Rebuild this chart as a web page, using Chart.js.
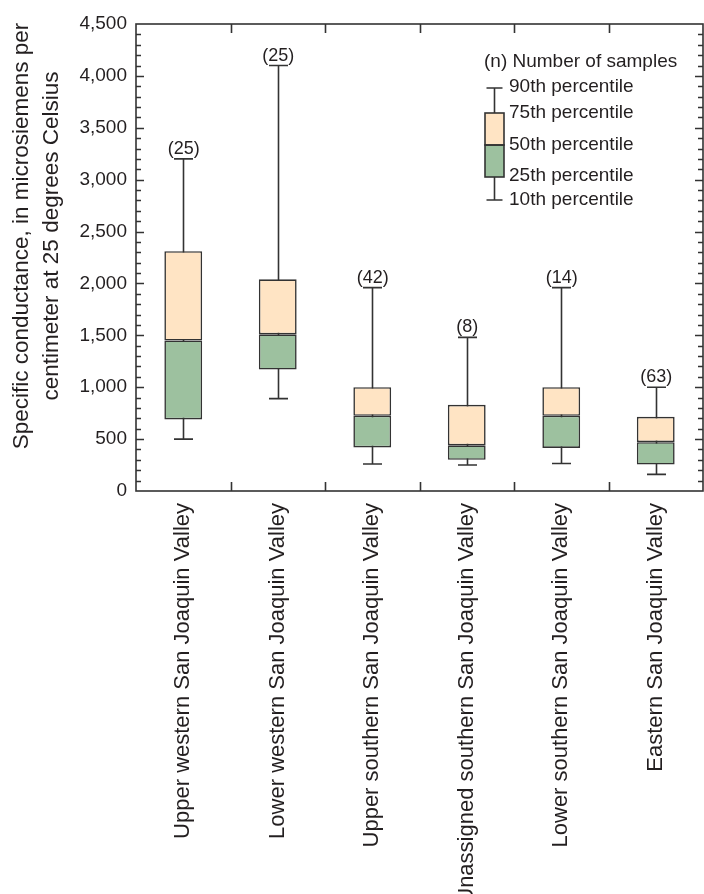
<!DOCTYPE html>
<html>
<head>
<meta charset="utf-8">
<script src="https://cdn.jsdelivr.net/npm/chart.js@4/dist/chart.umd.min.js"></script>
<style>
  html, body { margin: 0; padding: 0; background: #fff; }
  #wrap { width: 704px; height: 894px; }
</style>
</head>
<body>
<div id="wrap"><canvas id="mycanvas" width="704" height="894"></canvas></div>
<script>
// values (microsiemens per centimeter)
var regions = [
	"Upper western San Joaquin Valley",
	"Lower western San Joaquin Valley",
	"Upper southern San Joaquin Valley",
	"Unassigned southern San Joaquin Valley",
	"Lower southern San Joaquin Valley",
	"Eastern San Joaquin Valley"
];
var p10 = [500, 890, 260, 250, 265, 160];
var p25 = [690, 1170, 420, 300, 415, 255];
var p50 = [1450, 1510, 725, 440, 725, 470];
var p75 = [2310, 2040, 1000, 830, 1000, 715];
var p90 = [3200, 4100, 1960, 1480, 1960, 1000];
var nSamples = [25, 25, 42, 8, 14, 63];
var yMin = 0, yMax = 4500, yStep = 500, yMinorStep = 100;

var FONT = "'Liberation Sans', Arial, sans-serif";
var INK = "#231f20";
var LINE = "#333333";
var PEACH = "#ffe4c4";
var GREEN = "#9dc19f";

var lowerBox = [], upperBox = [];
for (var i = 0; i < regions.length; i++) {
	lowerBox.push([p25[i], p50[i]]);
	upperBox.push([p50[i], p75[i]]);
}

// whiskers, caps and (n) labels
var whiskers = {
	id: "whiskers",
	beforeDatasetsDraw: function(chart) {
		var ctx = chart.ctx, x = chart.scales.x, y = chart.scales.y;
		ctx.save();
		ctx.strokeStyle = LINE;
		ctx.lineWidth = 1.6;
		for (var i = 0; i < regions.length; i++) {
			var px = Math.round(x.getPixelForValue(i)) + 0.5;
			var top = y.getPixelForValue(p90[i]), bot = y.getPixelForValue(p10[i]);
			ctx.beginPath();
			ctx.moveTo(px, top); ctx.lineTo(px, bot);
			ctx.moveTo(px - 9.5, top); ctx.lineTo(px + 9.5, top);
			ctx.moveTo(px - 9.5, bot); ctx.lineTo(px + 9.5, bot);
			ctx.stroke();
		}
		ctx.restore();
	},
	afterDatasetsDraw: function(chart) {
		var ctx = chart.ctx, x = chart.scales.x, y = chart.scales.y;
		ctx.save();
		ctx.fillStyle = INK;
		ctx.font = "18px " + FONT;
		ctx.textAlign = "center";
		ctx.textBaseline = "alphabetic";
		for (var i = 0; i < regions.length; i++) {
			var px = x.getPixelForValue(i);
			ctx.fillText("(" + nSamples[i] + ")", px + 0.5, y.getPixelForValue(p90[i]) - 5);
		}
		ctx.restore();
	}
};

// frame with inward ticks on all four sides
var frame = {
	id: "frame",
	afterDraw: function(chart) {
		var ctx = chart.ctx, a = chart.chartArea, x = chart.scales.x, y = chart.scales.y;
		ctx.save();
		ctx.strokeStyle = LINE;
		ctx.lineWidth = 1.6;
		ctx.strokeRect(a.left, a.top, a.right - a.left, a.bottom - a.top);
		ctx.beginPath();
		for (var v = yMin + yMinorStep; v < yMax; v += yMinorStep) {
			var py = Math.round(y.getPixelForValue(v)) + 0.5;
			var len = (v % yStep === 0) ? 8 : 5;
			ctx.moveTo(a.left, py); ctx.lineTo(a.left + len, py);
			ctx.moveTo(a.right, py); ctx.lineTo(a.right - len, py);
		}
		for (var i = 0; i < regions.length - 1; i++) {
			var px = Math.round((x.getPixelForValue(i) + x.getPixelForValue(i + 1)) / 2) + 0.5;
			ctx.moveTo(px, a.bottom); ctx.lineTo(px, a.bottom - 9);
			ctx.moveTo(px, a.top); ctx.lineTo(px, a.top + 9);
		}
		ctx.stroke();

		// y axis title, two lines
		ctx.fillStyle = INK;
		ctx.font = "22.5px " + FONT;
		ctx.textAlign = "center";
		ctx.textBaseline = "middle";
		ctx.translate(22, 236);
		ctx.rotate(-Math.PI / 2);
		ctx.fillText("Specific conductance, in microsiemens per", 0, 0);
		ctx.fillText("centimeter at 25 degrees Celsius", 0, 30);
		ctx.restore();

		// legend
		ctx.save();
		ctx.strokeStyle = LINE;
		ctx.lineWidth = 1.6;
		var lx = 494.5;
		ctx.beginPath();
		ctx.moveTo(lx, 88); ctx.lineTo(lx, 200);
		ctx.moveTo(lx - 8, 88); ctx.lineTo(lx + 8, 88);
		ctx.moveTo(lx - 8, 200); ctx.lineTo(lx + 8, 200);
		ctx.stroke();
		ctx.fillStyle = PEACH;
		ctx.fillRect(485, 113, 19, 32);
		ctx.fillStyle = GREEN;
		ctx.fillRect(485, 145, 19, 32);
		ctx.strokeRect(485, 113, 19, 32);
		ctx.strokeRect(485, 145, 19, 32);
		ctx.fillStyle = INK;
		ctx.font = "19px " + FONT;
		ctx.textAlign = "left";
		ctx.textBaseline = "middle";
		ctx.fillText("(n) Number of samples", 484, 62);
		var rows = [["90th percentile", 87], ["75th percentile", 113], ["50th percentile", 145], ["25th percentile", 176], ["10th percentile", 200]];
		for (var r = 0; r < rows.length; r++) ctx.fillText(rows[r][0], 509, rows[r][1]);
		ctx.restore();
	}
};

var ctx = document.getElementById("mycanvas");
var boxChart = new Chart(ctx, {
	type: "bar",
	data: {
		labels: regions,
		datasets: [
			{
				label: "25th to 50th percentile",
				data: lowerBox,
				backgroundColor: GREEN,
				borderColor: LINE,
				borderWidth: 1.6,
				borderSkipped: false,
				grouped: false,
				barPercentage: 0.4,
				categoryPercentage: 1
			},
			{
				label: "50th to 75th percentile",
				data: upperBox,
				backgroundColor: PEACH,
				borderColor: LINE,
				borderWidth: 1.6,
				borderSkipped: false,
				grouped: false,
				barPercentage: 0.4,
				categoryPercentage: 1
			}
		]
	},
	options: {
		responsive: false,
		animation: false,
		devicePixelRatio: 1,
		layout: { padding: { top: 24, right: 1, left: 0, bottom: 0 } },
		plugins: { legend: { display: false }, tooltip: { enabled: false } },
		scales: {
			x: {
				grid: { display: false, drawTicks: false },
				border: { display: false },
				ticks: {
					autoSkip: false, maxRotation: 90, minRotation: 90, padding: 12,
					color: INK, font: { family: FONT, size: 22 }
				},
				afterFit: function(s) { s.height = 894 - 491; }
			},
			y: {
				min: yMin, max: yMax,
				grid: { display: false, drawTicks: false },
				border: { display: false },
				ticks: {
					stepSize: yStep, padding: 9, color: INK,
					font: { family: FONT, size: 19 },
					callback: function(v) { return v.toLocaleString("en-US"); }
				},
				afterFit: function(s) { s.width = 136; }
			}
		}
	},
	plugins: [whiskers, frame]
});
</script>
</body>
</html>
